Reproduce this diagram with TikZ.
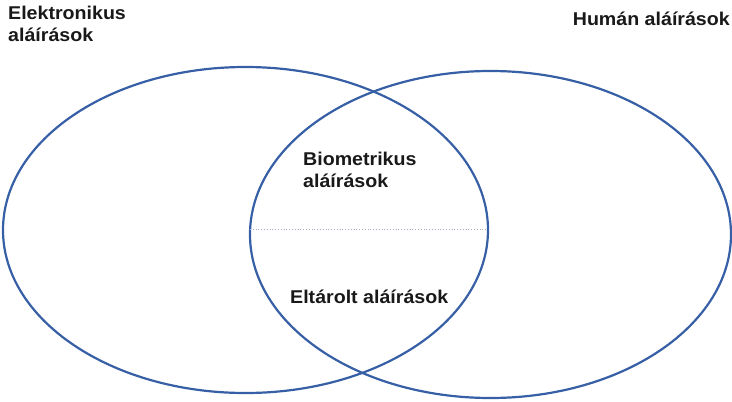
\documentclass[tikz,border=0pt]{standalone}
\usepackage{fontspec}
\setmainfont[FakeStretch=1.06]{Liberation Sans}
\usetikzlibrary{shapes.geometric}
\definecolor{vennblue}{RGB}{55,95,165}
\definecolor{dotgray}{RGB}{160,170,190}
\begin{document}
\begin{tikzpicture}[x=1pt,y=-1pt,
  setline/.style={draw=vennblue,line width=2.2pt},
  lbl/.style={font=\fontsize{18.5}{22}\selectfont\bfseries,inner sep=0pt,align=left,text=black!90}]
\useasboundingbox (0,0) rectangle (732,402);
\node[setline,ellipse,minimum width=485pt,minimum height=326pt,inner sep=0pt] (elec) at (245.5,230) {};
\node[setline,ellipse,minimum width=481pt,minimum height=327pt,inner sep=0pt] (hum) at (490.5,234.5) {};
\coordinate (dl) at (250,229);
\coordinate (dr) at (488,229);
\draw[dotgray,line width=0.8pt,dotted] (dl) -- (dr);
\node[lbl,anchor=north west] (telec) at (8,6) {Elektronikus\\aláírások};
\node[lbl,anchor=base east] (thum) at (730,25) {Humán aláírások};
\node[lbl,anchor=north west] (tbio) at (303,152) {Biometrikus\\aláírások};
\node[lbl,anchor=base west] (tstor) at (290,303) {Eltárolt aláírások};
\end{tikzpicture}
\end{document}
